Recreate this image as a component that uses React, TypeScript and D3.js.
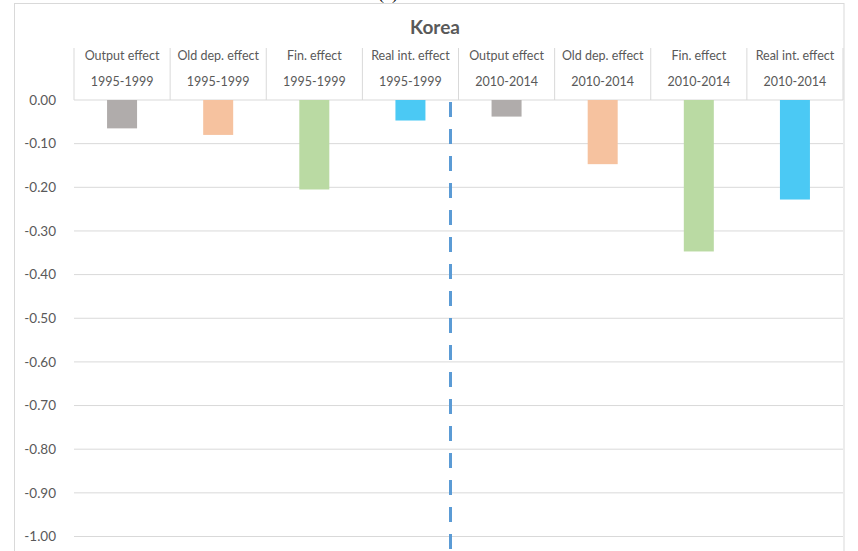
import React from "react";
import * as d3 from "d3";

const effects = ["Output effect", "Old dep. effect", "Fin. effect", "Real int. effect"];
const periods = ["1995-1999", "2010-2014"];
const values1995 = [-0.065, -0.08, -0.205, -0.047];
const values2010 = [-0.038, -0.147, -0.347, -0.228];
const yTicks = [0, -0.1, -0.2, -0.3, -0.4, -0.5, -0.6, -0.7, -0.8, -0.9, -1.0];
const barColors = ["#B0ACAB", "#F6C29F", "#BADAA3", "#4BC9F4"];
const title = "Korea";
const caption = "(c)";

const W = 858;
const H = 551;
const plotLeft = 74;
const plotRight = 843;
const y0 = 100;
const yEnd = 536.5;
const textColor = "#595959";
const gridColor = "#D9D9D9";
const font = "Lato, 'Open Sans', sans-serif";

type Row = { key: string; effect: string; period: string; value: number; color: string };

const rows: Row[] = [];
periods.forEach((p, pi) => {
  const vals = pi === 0 ? values1995 : values2010;
  effects.forEach((e, ei) => {
    rows.push({ key: `${e}|${p}`, effect: e, period: p, value: vals[ei], color: barColors[ei] });
  });
});

const fmt = (v: number) => d3.format(".2f")(v).replace("\u2212", "-");

export default function App() {
  const x = d3
    .scaleBand<string>()
    .domain(rows.map((r) => r.key))
    .range([plotLeft, plotRight])
    .paddingInner(0)
    .paddingOuter(0);
  const y = d3.scaleLinear().domain([0, -1]).range([y0, yEnd]);
  const bw = x.bandwidth();
  const barW = 30;
  const boundaries = rows.map((r) => x(r.key) as number).concat([plotRight]);
  const splitX = (x(rows[4].key) as number) - 8;

  return (
    <svg
      width={W}
      height={H}
      style={{ position: "absolute", left: 0, top: 0, background: "#fff" }}
      fontFamily={font}
    >
      <text x={388} y={-1} fontFamily="'Liberation Serif', serif" fontSize={18} textAnchor="middle" fill="#000">
        {caption}
      </text>
      <rect x={14.5} y={3.5} width={829.5} height={H + 10} fill="none" stroke={gridColor} strokeWidth={1} />
      <text x={435} y={34} textAnchor="middle" fontSize={19} fontWeight="bold" fill={textColor}>
        {title}
      </text>
      {yTicks.map((t) => (
        <g key={t}>
          <line x1={plotLeft} x2={plotRight} y1={y(t)} y2={y(t)} stroke={gridColor} strokeWidth={1} />
          <text x={56} y={y(t)} dy="0.35em" textAnchor="end" fontSize={13.5} fill={textColor}>
            {fmt(t)}
          </text>
        </g>
      ))}
      {boundaries.map((bx, i) => (
        <line key={i} x1={bx} x2={bx} y1={48} y2={y0} stroke={gridColor} strokeWidth={1} />
      ))}
      {rows.map((r) => {
        const cx = (x(r.key) as number) + bw / 2;
        return (
          <g key={r.key}>
            <text x={cx} y={56} dy="0.35em" textAnchor="middle" fontSize={12.5} fill={textColor}>
              {r.effect}
            </text>
            <text x={cx} y={82} dy="0.35em" textAnchor="middle" fontSize={12.5} fill={textColor}>
              {r.period}
            </text>
            <rect x={cx - barW / 2} y={y(0)} width={barW} height={y(r.value) - y(0)} fill={r.color} />
          </g>
        );
      })}
      <line
        x1={splitX}
        x2={splitX}
        y1={102}
        y2={H}
        stroke="#5B9BD5"
        strokeWidth={3}
        strokeDasharray="15 12"
      />
    </svg>
  );
}
